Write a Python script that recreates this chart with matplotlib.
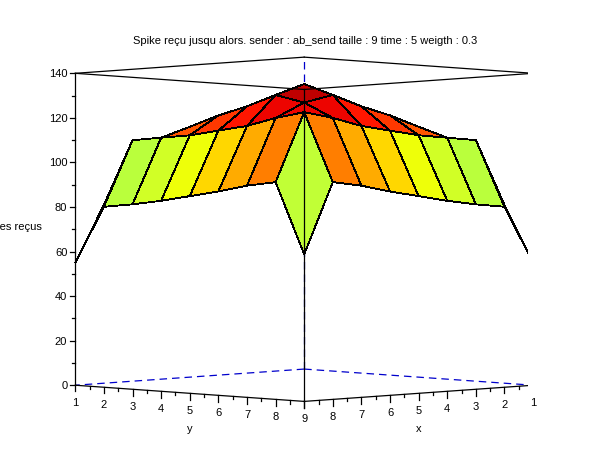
import numpy as np
import matplotlib
matplotlib.use("Agg")
import matplotlib.pyplot as plt
from matplotlib import cm
from mpl_toolkits.mplot3d import proj3d

plt.rcParams['font.family'] = ['Liberation Sans', 'DejaVu Sans']

title = "Spike reçu jusqu alors. sender : ab_send taille : 9 time : 5 weigth : 0.3"
z_label = 'nombre de spikes reçus'
x_vals = [1, 2, 3, 4, 5, 6, 7, 8, 9]
y_vals = [1, 2, 3, 4, 5, 6, 7, 8, 9]
z_ticks = [0, 20, 40, 60, 80, 100, 120, 140]

# spikes received, rows = x (1..9), columns = y (1..9)
spikes = [
    [60, 88, 87, 86, 85, 84, 82, 80, 55],
    [88, 98, 100, 102, 104, 106, 108, 110, 81],
    [87, 100, 106, 108, 110, 112, 116, 112, 83],
    [86, 102, 108, 114, 116, 118, 122, 114, 85.5],
    [85, 104, 110, 116, 124, 127, 127, 117, 88.5],
    [84, 106, 112, 118, 127, 137, 133, 120, 91.5],
    [82, 108, 116, 122, 127, 133, 130.5, 124.5, 95],
    [80, 110, 112, 114, 117, 120, 124.5, 128, 97.5],
    [55, 81, 83, 85.5, 88.5, 91.5, 95, 97.5, 66],
]

X, Y = np.meshgrid(np.array(x_vals, float), np.array(y_vals, float), indexing='ij')
Z = np.array(spikes, float)

# facet colour from the mean height of its four corners (jet colormap)
mean = (Z[:-1, :-1] + Z[1:, :-1] + Z[:-1, 1:] + Z[1:, 1:]) / 4.0
zmin, zmax = Z.min(), Z.max()
t = np.interp(mean, [zmin, 111, 126, zmax], [0.0, 0.775, 0.9, 0.965])
fc = np.zeros(Z.shape + (4,))
fc[:-1, :-1] = cm.jet(t)

fig = plt.figure(figsize=(6.1, 4.6), dpi=100)
ax = fig.add_axes([-0.0115, -0.0141, 1.0, 1.0], projection='3d')
ax.set_proj_type('ortho')
ax.view_init(elev=4.05, azim=45)
ax.set_box_aspect((1, 1, 0.966), zoom=1.17)
ax.computed_zorder = False
ax.set_axis_off()

ax.plot_surface(X, Y, Z, facecolors=fc, rstride=1, cstride=1,
                edgecolor='black', linewidth=0.6, shade=False, antialiased=False, zorder=2)

x0, x1 = min(x_vals), max(x_vals)
y0, y1 = min(y_vals), max(y_vals)
z0, z1 = z_ticks[0], z_ticks[-1]
ax.set_xlim(x0, x1)
ax.set_ylim(y0, y1)
ax.set_zlim(z0, z1)

lw = 0.9
# hidden (back) edges dashed
for xs, ys, zs in [([x0, x1], [y0, y0], [z0, z0]), ([x0, x0], [y0, y1], [z0, z0]),
                   ([x0, x0], [y0, y0], [z0, z1])]:
    ax.plot(xs, ys, zs, color='#0000cc', linestyle=(0, (6, 4)), linewidth=lw, zorder=1)
# other edges
for xs, ys, zs in [([x0, x1], [y0, y0], [z1, z1]), ([x0, x0], [y0, y1], [z1, z1]),
                   ([x1, x1], [y0, y1], [z1, z1]), ([x0, x1], [y1, y1], [z1, z1]),
                   ([x1, x1], [y0, y1], [z0, z0]), ([x0, x1], [y1, y1], [z0, z0]),
                   ([x1, x1], [y1, y1], [z0, z1]), ([x1, x1], [y0, y0], [z0, z1]),
                   ([x0, x0], [y1, y1], [z0, z1])]:
    ax.plot(xs, ys, zs, color='black', linewidth=lw, zorder=3)

M = ax.get_proj()


def label(x, y, z, s, **kw):
    px, py, _ = proj3d.proj_transform(x, y, z, M)
    ax.text2D(px, py, s, transform=ax.transData, zorder=4, **kw)


fs = 8
# y axis along the front-left edge (x = max)
for v in y_vals:
    ax.plot([x1, x1], [v, v], [z0, z0 - 2.8], color='black', linewidth=lw, zorder=3)
    label(x1, v, z0 - 7.5, str(v), ha='center', va='center', fontsize=fs)
for v in y_vals[:-1]:
    ax.plot([x1, x1], [v + 0.5, v + 0.5], [z0, z0 - 1.4], color='black', linewidth=lw, zorder=3)
# x axis along the front-right edge (y = max)
for v in x_vals:
    ax.plot([v, v], [y1, y1], [z0, z0 - 2.8], color='black', linewidth=lw, zorder=3)
    if v != x1:
        label(v, y1, z0 - 7.5, str(v), ha='center', va='center', fontsize=fs)
for v in x_vals[:-1]:
    ax.plot([v + 0.5, v + 0.5], [y1, y1], [z0, z0 - 1.4], color='black', linewidth=lw, zorder=3)
label(x1, (y0 + y1) / 2, z0 - 15.5, 'y', ha='center', va='center', fontsize=fs)
label((x0 + x1) / 2, y1, z0 - 15.5, 'x', ha='center', va='center', fontsize=fs)
# z axis along the left vertical edge (x = max, y = min)
d = 0.1
for v in z_ticks:
    ax.plot([x1, x1 + d], [y0, y0 - d], [v, v], color='black', linewidth=lw, zorder=3)
    label(x1 + 0.14, y0 - 0.14, v, str(v), ha='right', va='center', fontsize=fs)
for v in z_ticks[:-1]:
    ax.plot([x1, x1 + d / 2], [y0, y0 - d / 2], [v + 10, v + 10], color='black', linewidth=lw, zorder=3)

fig.text(0.5, 1 - 41 / 460, title, ha='center', va='center', fontsize=fs)
fig.text(42 / 610, 1 - 227 / 460, z_label, ha='right', va='center', fontsize=fs)

fig.savefig('out.png', dpi=100)
